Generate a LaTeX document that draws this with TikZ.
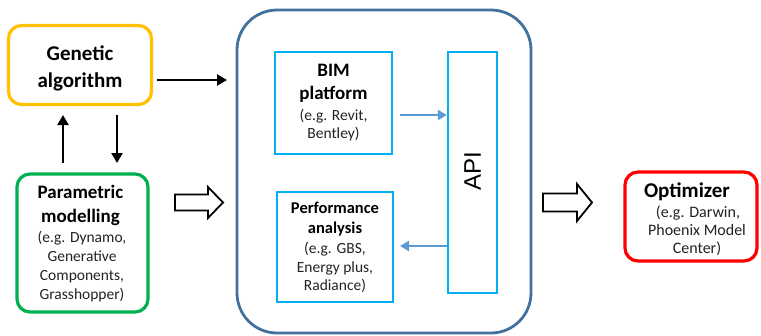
\documentclass[tikz,border=0pt]{standalone}
\usepackage{fontspec}
\setmainfont{Carlito}
\newfontfamily\apifont{Liberation Sans}
\usetikzlibrary{arrows.meta}
\definecolor{gaorange}{HTML}{FFC000}
\definecolor{pmgreen}{HTML}{00B050}
\definecolor{bigblue}{HTML}{41719C}
\definecolor{cyanbox}{HTML}{00B0F0}
\definecolor{arrblue}{HTML}{5B9BD5}
\definecolor{optred}{HTML}{FF0000}
\definecolor{subgray}{HTML}{222222}
\tikzset{
  rbox/.style={draw, line width=3.2pt, rounded corners=13pt, inner sep=0pt},
  sbox/.style={draw=cyanbox, line width=2.5pt, inner sep=0pt},
  blk/.style={-{Triangle[length=10pt,width=11pt]}, line width=2.6pt, black},
  bluearr/.style={-{Triangle[length=9pt,width=10pt]}, line width=2.6pt, arrblue},
  hollow/.style={draw=black, line width=1.8pt, fill=white, line join=miter},
  ttl/.style={anchor=base, inner sep=0pt, font=\bfseries\fontsize{#1}{#1}\selectfont},
  sub/.style={anchor=base, inner sep=0pt, text=subgray, font=\fontsize{#1}{#1}\selectfont},
}
\begin{document}
\begin{tikzpicture}[x=1pt,y=-1pt]
\useasboundingbox (0,0) rectangle (761,335);
% boxes
\node[rbox, draw=gaorange, minimum width=143pt, minimum height=79pt] (ga) at (80,65) {};
\node[rbox, draw=pmgreen, minimum width=131pt, minimum height=138pt] (pm) at (82.5,243) {};
\node[draw=bigblue, line width=2.8pt, rounded corners=40pt, minimum width=294pt, minimum height=323pt, inner sep=0pt] (big) at (384,171.5) {};
\node[sbox, minimum width=117pt, minimum height=102pt] (bim) at (333.5,103) {};
\node[sbox, minimum width=116pt, minimum height=110pt] (perf) at (335,247) {};
\node[sbox, minimum width=49pt, minimum height=241pt] (api) at (472.5,172.5) {};
\node[rbox, draw=optred, minimum width=132pt, minimum height=89pt] (opt) at (691,216.5) {};
% texts
\node[ttl=21] (ga1) at (80,60) {Genetic};
\node[ttl=21] (ga2) at (80,87) {algorithm};
\node[ttl=19] (pm1) at (80.5,198) {Parametric};
\node[ttl=19] (pm2) at (80.5,222) {modelling};
\node[sub=15.5] (pm3) at (82,242) {(e.g. Dynamo,};
\node[sub=15.5] (pm4) at (82,261) {Generative};
\node[sub=15.5] (pm5) at (82,280) {Components,};
\node[sub=15.5] (pm6) at (82,299) {Grasshopper)};
\node[ttl=19] (bim1) at (333.5,76) {BIM};
\node[ttl=19] (bim2) at (333.5,99) {platform};
\node[sub=15.5] (bim3) at (333.5,120) {(e.g. Revit,};
\node[sub=15.5] (bim4) at (333.5,138) {Bentley)};
\node[ttl=16.5] (pf1) at (335,213) {Performance};
\node[ttl=16.5] (pf2) at (335,233) {analysis};
\node[sub=15.5] (pf3) at (335,253) {(e.g. GBS,};
\node[sub=15.5] (pf4) at (335,272) {Energy plus,};
\node[sub=15.5] (pf5) at (335,290) {Radiance)};
\node[inner sep=0pt, font=\apifont\fontsize{24}{28}\selectfont, rotate=90] (apit) at (472.5,171.5) {API};
\node[ttl=21] (op1) at (687,197) {Optimizer};
\node[sub=16] (op2) at (698,217) {(e.g. Darwin,};
\node[sub=16] (op3) at (697,235) {Phoenix Model};
\node[sub=16] (op4) at (697,253) {Center)};
% arrows
\coordinate (gaR) at (157,80);
\coordinate (bigL) at (227,80);
\draw[blk] (gaR) -- (bigL);
\coordinate (upS) at (63,163);
\coordinate (upE) at (63,115);
\draw[blk] (upS) -- (upE);
\coordinate (dnS) at (117,115);
\coordinate (dnE) at (117,163);
\draw[blk] (dnS) -- (dnE);
\coordinate (b1) at (400,115);
\draw[bluearr] (b1) -- (api.west |- b1);
\coordinate (p1) at (400,246);
\draw[bluearr] (api.west |- p1) -- (p1);
% hollow block arrows
\draw[hollow] (175,194.5) -- (208,194.5) -- (208,187) -- (223,202.5) -- (208,218) -- (208,210.5) -- (175,210.5) -- cycle;
\draw[hollow] (543,193.5) -- (577,193.5) -- (577,184) -- (592,202.5) -- (577,221) -- (577,211.5) -- (543,211.5) -- cycle;
\end{tikzpicture}
\end{document}
